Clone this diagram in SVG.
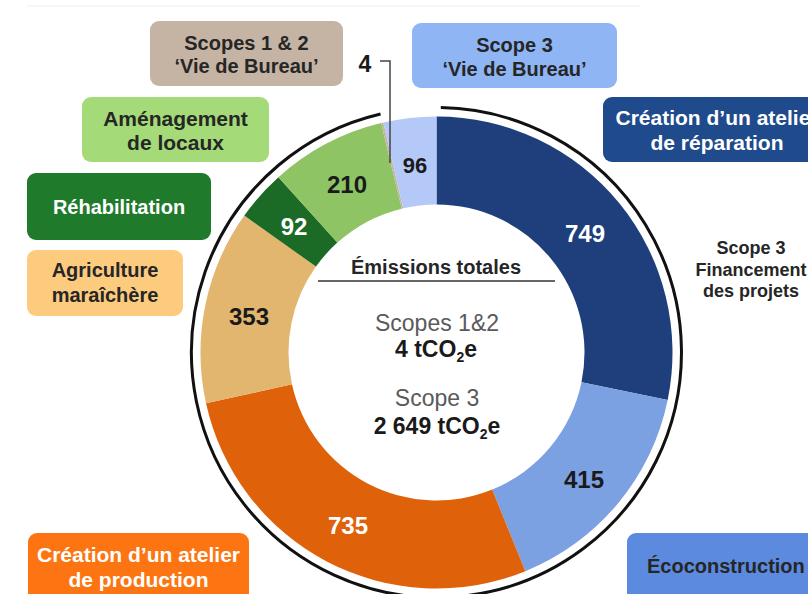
<svg xmlns="http://www.w3.org/2000/svg" width="808" height="594" viewBox="0 0 808 594">
<style>
  .lbl { font-family: "Liberation Sans", Arial, sans-serif; font-weight: bold; font-size: 20px; text-anchor: middle; fill: #262626; }
  .lbl.w { fill: #ffffff; }
  .lbl.big { font-size: 21px; }
  .num { font-family: "Liberation Sans", Arial, sans-serif; font-weight: bold; font-size: 24px; text-anchor: middle; fill: #1a1a1a; }
  .num.w { fill: #ffffff; }
  .ctr { font-family: "Liberation Sans", Arial, sans-serif; text-anchor: middle; }
  .gray { fill: #5a5a5a; font-size: 23px; }
  .val { fill: #1a1a1a; font-size: 23px; font-weight: bold; }
  .side { font-family: "Liberation Sans", Arial, sans-serif; font-weight: bold; font-size: 18px; text-anchor: middle; fill: #262626; }
  .conn { fill: none; stroke: #444; stroke-width: 1.5; }
  .arc { fill: none; stroke: #111; stroke-width: 3; }
</style>

<rect x="0" y="0" width="808" height="594" fill="#ffffff"/>
<line x1="27" y1="6" x2="640" y2="6" stroke="#efefef" stroke-width="1"/>

<g id="donut">
  <g id="seg-749"><path d="M436.5,116.5 A236,236 0 0 1 667.68,399.94 L581.48,382.25 A148,148 0 0 0 436.5,204.5 Z" fill="#1E3F7C"/>
    <text class="num w" x="585" y="242">749</text></g>
  <g id="seg-415"><path d="M667.68,399.94 A236,236 0 0 1 525.33,571.14 L492.21,489.62 A148,148 0 0 0 581.48,382.25 Z" fill="#7CA1E2"/>
    <text class="num" x="584" y="488">415</text></g>
  <g id="seg-735"><path d="M525.33,571.14 A236,236 0 0 1 206.02,403.23 L291.96,384.31 A148,148 0 0 0 492.21,489.62 Z" fill="#DF620B"/>
    <text class="num w" x="348" y="534">735</text></g>
  <g id="seg-353"><path d="M206.02,403.23 A236,236 0 0 1 244.29,215.56 L315.96,266.62 A148,148 0 0 0 291.96,384.31 Z" fill="#E3B66F"/>
    <text class="num" x="249" y="325">353</text></g>
  <g id="seg-92"><path d="M244.29,215.56 A236,236 0 0 1 278.42,177.26 L337.37,242.60 A148,148 0 0 0 315.96,266.62 Z" fill="#1B6B26"/>
    <text class="num w" x="294" y="235">92</text></g>
  <g id="seg-210"><path d="M278.42,177.26 A236,236 0 0 1 381.14,123.08 L401.78,208.63 A148,148 0 0 0 337.37,242.60 Z" fill="#8EC464"/>
    <text class="num" x="347" y="193">210</text></g>
  <g id="seg-4"><path d="M381.14,123.08 A236,236 0 0 1 383.32,122.57 L403.15,208.31 A148,148 0 0 0 401.78,208.63 Z" fill="#C5B4A3"/>
    <text class="num" x="365" y="72" style="font-size:23px">4</text></g>
  <g id="seg-96"><path d="M383.32,122.57 A236,236 0 0 1 436.5,116.5 L436.5,204.5 A148,148 0 0 0 403.15,208.31 Z" fill="#B4C9F7"/>
    <text class="num" x="415" y="173" style="font-size:22px">96</text></g>
</g>

<g id="center">
  <text class="ctr" x="436" y="274" style="font-weight:bold;font-size:20px;fill:#262626">Émissions totales</text>
  <line x1="318" y1="281" x2="555" y2="281" stroke="#333" stroke-width="1.5"/>
  <text class="ctr gray" x="437" y="331">Scopes 1&amp;2</text>
  <text class="ctr val" x="436" y="357">4 tCO<tspan font-size="14" dy="5">2</tspan><tspan dy="-5">e</tspan></text>
  <text class="ctr gray" x="437" y="406">Scope 3</text>
  <text class="ctr val" x="437" y="434">2 649 tCO<tspan font-size="14" dy="5">2</tspan><tspan dy="-5">e</tspan></text>
</g>

<g id="connectors">
  <path class="arc" d="M440.8,107.54 A245,245 0 1 1 380.55,113.97"/>
  <polyline class="conn" points="380,61 390,61 390,163"/>
</g>

<g id="box-scopes12">
  <rect x="150" y="21" width="193" height="65" rx="9" fill="#C5B4A3"/>
  <text class="lbl" x="246.5" y="50">Scopes 1 &amp; 2</text>
  <text class="lbl" x="246.5" y="73">‘Vie de Bureau’</text>
</g>
<g id="box-scope3-bureau">
  <rect x="412" y="23" width="205" height="65" rx="9" fill="#8FB5F5"/>
  <text class="lbl" x="514.5" y="52">Scope 3</text>
  <text class="lbl" x="514.5" y="76">‘Vie de Bureau’</text>
</g>
<g id="box-reparation">
  <rect x="603" y="97" width="230" height="65" rx="9" fill="#1F4A8C"/>
  <text class="lbl w big" x="717" y="125">Création d’un atelier</text>
  <text class="lbl w big" x="717" y="150">de réparation</text>
</g>
<g id="box-amenagement">
  <rect x="82" y="97" width="187" height="65" rx="9" fill="#A5DA78"/>
  <text class="lbl big" x="175.5" y="126">Aménagement</text>
  <text class="lbl big" x="175.5" y="150">de locaux</text>
</g>
<g id="box-rehabilitation">
  <rect x="27" y="173" width="184" height="67" rx="9" fill="#1F7A2C"/>
  <text class="lbl w" x="119" y="214">Réhabilitation</text>
</g>
<g id="box-agriculture">
  <rect x="27" y="250" width="156" height="66" rx="9" fill="#FDCB7E"/>
  <text class="lbl" x="105" y="277">Agriculture</text>
  <text class="lbl" x="105" y="302">maraîchère</text>
</g>
<g id="box-production">
  <rect x="28" y="533" width="221" height="80" rx="9" fill="#FD7512"/>
  <text class="lbl w big" x="138.5" y="562">Création d’un atelier</text>
  <text class="lbl w big" x="138.5" y="587">de production</text>
</g>
<g id="box-ecoconstruction">
  <rect x="627" y="533" width="200" height="80" rx="9" fill="#5B8ADF"/>
  <text class="lbl" x="647" y="573" style="text-anchor:start">Écoconstruction</text>
</g>
<g id="label-financement">
  <text class="side" x="751" y="254">Scope 3</text>
  <text class="side" x="751" y="276">Financement</text>
  <text class="side" x="751" y="297">des projets</text>
</g>
</svg>
